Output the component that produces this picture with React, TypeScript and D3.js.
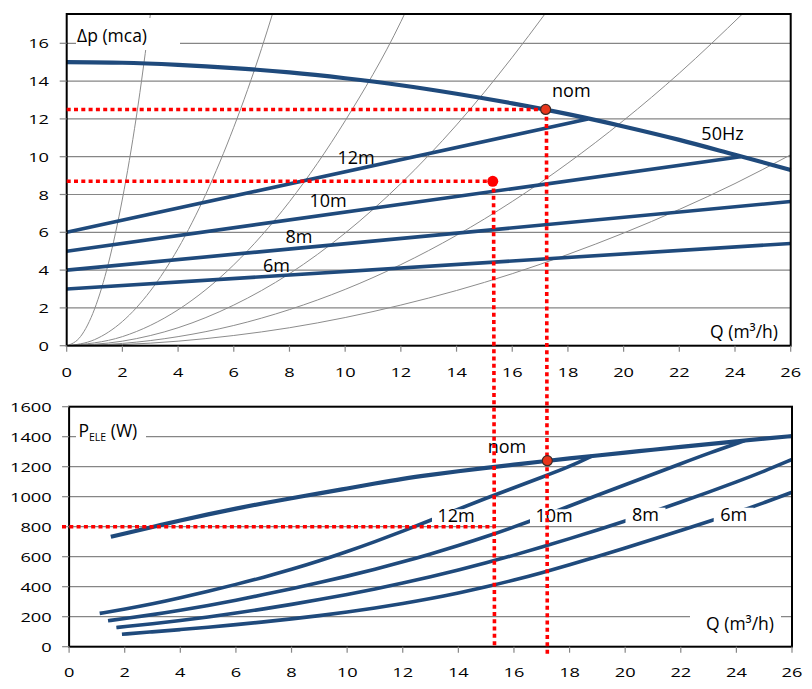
import React from 'react';
import * as d3 from 'd3';

// ---------- data ----------
const xTicks = [0, 2, 4, 6, 8, 10, 12, 14, 16, 18, 20, 22, 24, 26];
const headTicks = [0, 2, 4, 6, 8, 10, 12, 14, 16];
const powerTicks = [0, 200, 400, 600, 800, 1000, 1200, 1400, 1600];

// Head chart (Q m3/h, Δp mca)
const head50Hz = [[0, 15], [2, 14.97], [4, 14.86], [6, 14.69], [8, 14.46], [10, 14.15], [12, 13.78], [14, 13.33], [16, 12.82], [18, 12.25], [20, 11.6], [22, 10.89], [24, 10.1], [26, 9.3]];
const head12m = [[0, 6], [18.72, 12]];
const head10m = [[0, 5], [24.2, 10]];
const head8m = [[0, 4], [26, 7.63]];
const head6m = [[0, 3], [26, 5.41]];

// system curves (thin grey)
const sys1 = [[0, 0], [0.5, 0.49], [1, 1.94], [1.5, 4.37], [2, 7.76], [2.5, 12.1], [3.01, 17.6]];
const sys2 = [[0, 0], [1, 0.32], [2, 1.28], [3, 2.89], [4, 5.14], [5, 8.03], [6, 11.56], [7, 15.73], [7.4, 17.6]];
const sys3 = [[0, 0], [2, 0.48], [4, 1.9], [6, 4.28], [8, 7.62], [10, 11.9], [12, 17.14], [12.15, 17.6]];
const sys4 = [[0, 0], [2, 0.24], [4, 0.95], [6, 2.15], [8, 3.81], [10, 5.96], [12, 8.58], [14, 11.68], [16, 15.26], [17.2, 17.6]];
const sys5 = [[0, 0], [2, 0.12], [4, 0.48], [6, 1.07], [8, 1.91], [10, 2.98], [12, 4.29], [14, 5.84], [16, 7.63], [18, 9.66], [20, 11.92], [22, 14.42], [24.3, 17.6]];
const sys6 = [[0, 0], [2, 0.06], [4, 0.24], [6, 0.54], [8, 0.95], [10, 1.49], [12, 2.15], [14, 2.92], [16, 3.81], [18, 4.83], [20, 5.96], [22, 7.21], [24, 8.58], [26, 10.1]];
const systemCurves = [sys1, sys2, sys3, sys4, sys5, sys6];

// Power chart (Q m3/h, P W)
const power50Hz = [[1.5, 733], [2, 755], [3, 798], [4, 842], [5, 883], [6, 921], [7, 957], [8, 990], [9, 1022], [10, 1055], [11, 1088], [12, 1120], [13, 1146], [14, 1170], [15, 1193], [16, 1214], [17, 1235], [18, 1255], [19, 1275], [20, 1294], [21, 1313], [22, 1332], [23, 1351], [24, 1369], [25, 1387], [26, 1404]];
const power12m = [[1.1, 222], [2, 250], [3, 285], [4, 325], [5, 370], [6, 415], [7, 463], [8, 515], [9, 572], [10, 634], [11, 700], [12, 770], [13, 843], [14, 917], [15, 990], [16, 1060], [17, 1130], [18, 1200], [18.8, 1271]];
const power10m = [[1.4, 173], [2, 188], [3, 213], [4, 242], [5, 275], [6, 310], [7, 347], [8, 386], [9, 427], [10, 470], [11, 516], [12, 565], [13, 618], [14, 674], [15, 734], [16, 798], [17, 866], [18, 938], [19, 1010], [20, 1080], [21, 1150], [22, 1220], [23, 1290], [24.3, 1374]];
const power8m = [[1.7, 128], [2, 134], [3, 152], [4, 174], [5, 198], [6, 224], [7, 252], [8, 282], [9, 314], [10, 348], [11, 385], [12, 424], [13, 466], [14, 511], [15, 559], [16, 610], [17, 664], [18, 720], [19, 778], [20, 838], [21, 900], [22, 964], [23, 1030], [24, 1098], [25, 1170], [26, 1248]];
const power6m = [[1.9, 83], [3, 99], [4, 114], [5, 130], [6, 147], [7, 165], [8, 185], [9, 207], [10, 231], [11, 258], [12, 288], [13, 321], [14, 358], [15, 399], [16, 444], [17, 493], [18, 546], [19, 601], [20, 658], [21, 716], [22, 775], [23, 834], [24, 895], [25, 960], [26, 1030]];

const nomPoint = [17.2, 12.5];
const opPoint = [15.3, 8.7];
const nomPower = [17.2, 1240];
const opPower = 800;

const headLabels = [
  { t: '12m', x: 356, y: 164 },
  { t: '10m', x: 328, y: 207 },
  { t: '8m', x: 299, y: 243 },
  { t: '6m', x: 276.5, y: 272 },
  { t: '50Hz', x: 722.5, y: 140 },
  { t: 'nom', x: 571.3, y: 97.3 },
];
const powerLabels = [
  { t: '12m', x: 456, y: 522.3, hw: 24 },
  { t: '10m', x: 554, y: 522.3, hw: 24 },
  { t: '8m', x: 645.5, y: 520.7, hw: 20 },
  { t: '6m', x: 733.7, y: 520.7, hw: 20 },
];

// ---------- style ----------
const FONT = "'Open Sans', 'DejaVu Sans', sans-serif";
const BLUE = '#1f4a7c';
const GRID = '#868686';
const RED = '#ff0000';

export default function App() {
  const xT = d3.scaleLinear().domain([0, 26]).range([66.7, 790.7]);
  const yT = d3.scaleLinear().domain([0, 17.55]).range([345.7, 14]);
  const xB = d3.scaleLinear().domain([0, 26]).range([69.1, 792]);
  const yB = d3.scaleLinear().domain([0, 1600]).range([646.7, 406.7]);

  const lineT = d3.line<number[]>().x(d => xT(d[0])).y(d => yT(d[1])).curve(d3.curveMonotoneX);
  const lineB = d3.line<number[]>().x(d => xB(d[0])).y(d => yB(d[1])).curve(d3.curveBasis);

  const dotted = { stroke: RED, strokeWidth: 3.6, strokeDasharray: '4 3.3', fill: 'none' };

  return (
    <svg width={812} height={689} style={{ position: 'absolute', left: 0, top: 0, background: '#fff' }} fontFamily={FONT}>
      <defs>
        <clipPath id="clipTop">
          <rect x={xT(0)} y={yT(17.55)} width={xT(26) - xT(0)} height={yT(0) - yT(17.55)} />
        </clipPath>
      </defs>
      <rect x={0} y={0} width={812} height={689} fill="#fff" />

      {/* ===== TOP CHART ===== */}
      {headTicks.filter(v => v > 0).map(v => (
        <line key={'gt' + v} x1={xT(0)} x2={xT(26)} y1={yT(v)} y2={yT(v)} stroke={GRID} strokeWidth={1.2} />
      ))}
      <g clipPath="url(#clipTop)">
        {systemCurves.map((c, i) => (
          <path key={'sys' + i} d={lineT(c) || ''} fill="none" stroke="#8c8c8c" strokeWidth={1} />
        ))}
      </g>
      {/* axis title box */}
      <rect x={76} y={18} width={104} height={32} fill="#fff" />
      <text x={77} y={42.3} fontSize={17.5} fill="#000">Δp (mca)</text>
      <text x={778} y={337.5} fontSize={17.5} textAnchor="end" fill="#000">Q (m³/h)</text>

      {[head12m, head10m, head8m, head6m].map((c, i) => (
        <path key={'hs' + i} d={lineT(c) || ''} fill="none" stroke={BLUE} strokeWidth={3.6} />
      ))}
      <path d={lineT(head50Hz) || ''} fill="none" stroke={BLUE} strokeWidth={4.2} />

      {headLabels.map(l => (
        <text key={'hl' + l.t} x={l.x} y={l.y} fontSize={18} textAnchor="middle" fill="#000">{l.t}</text>
      ))}

      {/* frame & ticks */}
      <rect x={xT(0)} y={yT(17.55)} width={xT(26) - xT(0)} height={yT(0) - yT(17.55)} fill="none" stroke="#000" strokeWidth={2} />
      {headTicks.map(v => (
        <g key={'yt' + v}>
          <line x1={xT(0) - 7} x2={xT(0)} y1={yT(v)} y2={yT(v)} stroke={GRID} strokeWidth={1.2} />
          <text transform={`translate(49,${yT(v)}) scale(1.35,1)`} textAnchor="end" dominantBaseline="central" fontSize={13.5} fill="#000">{v}</text>
        </g>
      ))}
      {xTicks.map(v => (
        <g key={'xt' + v}>
          <line x1={xT(v)} x2={xT(v)} y1={yT(0)} y2={yT(0) + 6} stroke={GRID} strokeWidth={1.2} />
          <text transform={`translate(${xT(v)},371.5) scale(1.35,1)`} textAnchor="middle" dominantBaseline="central" fontSize={13.5} fill="#000">{v}</text>
        </g>
      ))}

      {/* ===== BOTTOM CHART ===== */}
      {powerTicks.filter(v => v > 0 && v < 1600).map(v => (
        <line key={'gb' + v} x1={xB(0)} x2={xB(26)} y1={yB(v)} y2={yB(v)} stroke={GRID} strokeWidth={1.2} />
      ))}
      <rect x={76} y={420} width={70} height={26} fill="#fff" />
      <text x={78.5} y={437.3} fontSize={17.5} fill="#000">P<tspan fontSize={10.5} dy={3.7}>ELE</tspan><tspan dy={-3.7}> (W)</tspan></text>
      <rect x={690} y={610} width={91} height={25} fill="#fff" />
      <text x={774} y={630} fontSize={17.5} textAnchor="end" fill="#000">Q (m³/h)</text>

      {[power12m, power10m, power8m, power6m].map((c, i) => (
        <path key={'ps' + i} d={lineB(c) || ''} fill="none" stroke={BLUE} strokeWidth={3.6} />
      ))}
      <path d={lineB(power50Hz) || ''} fill="none" stroke={BLUE} strokeWidth={4.2} />

      {powerLabels.map(l => (
        <g key={'pl' + l.t}>
          <rect x={l.x - l.hw} y={l.y - 13} width={l.hw * 2} height={16} fill="#fff" />
          <text x={l.x} y={l.y} fontSize={18} textAnchor="middle" fill="#000">{l.t}</text>
        </g>
      ))}
      <text x={507} y={453.3} fontSize={18} textAnchor="middle" fill="#000">nom</text>

      <rect x={xB(0)} y={yB(1600)} width={xB(26) - xB(0)} height={yB(0) - yB(1600)} fill="none" stroke="#000" strokeWidth={2} />
      {powerTicks.map(v => (
        <g key={'ybt' + v}>
          <line x1={xB(0) - 7} x2={xB(0)} y1={yB(v)} y2={yB(v)} stroke={GRID} strokeWidth={1.2} />
          <text transform={`translate(51.7,${yB(v)}) scale(1.35,1)`} textAnchor="end" dominantBaseline="central" fontSize={13.5} fill="#000">{v}</text>
        </g>
      ))}
      {xTicks.map(v => (
        <g key={'xbt' + v}>
          <line x1={xB(v)} x2={xB(v)} y1={yB(0)} y2={yB(0) + 6} stroke={GRID} strokeWidth={1.2} />
          <text transform={`translate(${xB(v)},671.7) scale(1.35,1)`} textAnchor="middle" dominantBaseline="central" fontSize={13.5} fill="#000">{v}</text>
        </g>
      ))}

      {/* ===== RED GUIDES ===== */}
      <line x1={xT(0)} x2={xT(nomPoint[0])} y1={yT(nomPoint[1])} y2={yT(nomPoint[1])} {...dotted} />
      <line x1={xT(0)} x2={xT(opPoint[0])} y1={yT(opPoint[1])} y2={yT(opPoint[1])} {...dotted} />
      <path d={`M${xT(nomPoint[0]) + 0.8},${yT(nomPoint[1])}L${xB(nomPower[0])},${yB(0) + 8}`} {...dotted} />
      <path d={`M${xT(opPoint[0]) + 0.8},${yT(opPoint[1])}L${xB(opPoint[0])},${yB(0)}`} {...dotted} />
      <line x1={62} x2={xB(opPoint[0])} y1={yB(opPower)} y2={yB(opPower)} {...dotted} />

      <circle cx={xT(opPoint[0])} cy={yT(opPoint[1])} r={5.5} fill={RED} />
      <circle cx={xT(nomPoint[0])} cy={yT(nomPoint[1])} r={5} fill="#e8361c" stroke="#3b2a26" strokeWidth={1.2} />
      <circle cx={xB(nomPower[0])} cy={yB(nomPower[1])} r={5} fill="#e8361c" stroke="#3b2a26" strokeWidth={1.2} />
    </svg>
  );
}
